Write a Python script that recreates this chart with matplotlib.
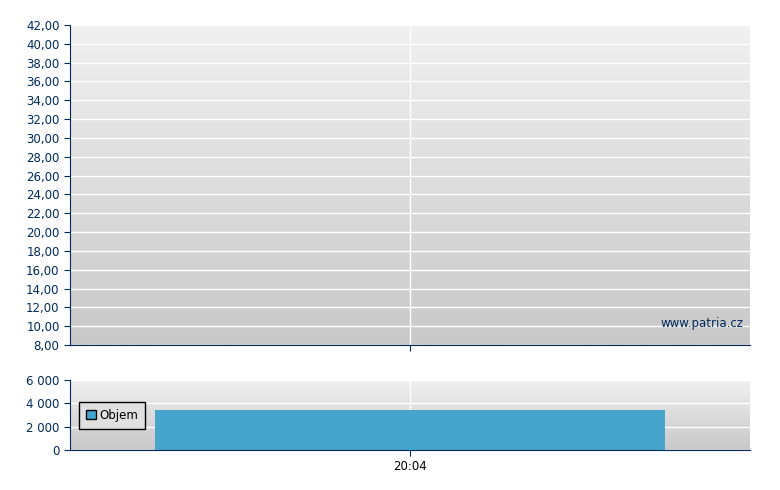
import numpy as np
import matplotlib
matplotlib.use("Agg")
import matplotlib.pyplot as plt
from matplotlib.ticker import FixedLocator

price_ticks = [8 + 2 * i for i in range(18)]
vol_ticks = [0, 2000, 4000, 6000]
vol_values = [3400]
vol_x = [0.5]
x_labels = ["20:04"]

W, H = 780, 490
fig = plt.figure(figsize=(W / 100, H / 100), dpi=100)
ax1 = fig.add_axes([70 / W, 1 - 345 / H, 680 / W, 320 / H])
ax2 = fig.add_axes([70 / W, 1 - 450 / H, 680 / W, 70 / H])

axis_col = "#002a5c"
grad = np.linspace(0, 1, 256).reshape(-1, 1)
from matplotlib.colors import LinearSegmentedColormap
cmap = LinearSegmentedColormap.from_list("g", ["#c8c8c8", "#f0f0f0"])

def style(ax, ticks, fmt, ylim):
    ax.set_xlim(0, 1)
    ax.set_ylim(*ylim)
    ax.imshow(grad, aspect="auto", cmap=cmap, origin="lower",
              extent=[0, 1, ylim[0], ylim[1]], zorder=0)
    ax.yaxis.set_major_locator(FixedLocator(ticks))
    ax.set_yticklabels([fmt(t) for t in ticks], fontsize=8.5, color=axis_col)
    ax.grid(True, color="white", lw=1, zorder=1)
    for s in ["top", "right"]:
        ax.spines[s].set_visible(False)
    for s in ["left", "bottom"]:
        ax.spines[s].set_color(axis_col)
    ax.tick_params(colors=axis_col, length=4)
    ax.set_xticks([0.5])

style(ax1, price_ticks, lambda t: f"{t:.2f}".replace(".", ","), (8, 42))
ax1.set_xticklabels([])
ax1.text(0.99, 0.055, "www.patria.cz", transform=ax1.transAxes, ha="right",
         fontsize=8.5, color="#002a5c")

style(ax2, vol_ticks, lambda t: f"{t:,}".replace(",", " "), (0, 6000))
ax2.bar(vol_x, vol_values, width=0.75, color="#45a5cd", zorder=2, label="Objem")
ax2.set_xticklabels(x_labels, fontsize=8.5, color="black")
leg = ax2.legend(loc="lower left", bbox_to_anchor=(0.005, 0.22), fontsize=8.5,
                 fancybox=False, framealpha=1, edgecolor="black",
                 handlelength=0.8, handleheight=0.8, handletextpad=0.3,
                 borderpad=0.6)
leg.get_frame().set_facecolor("#e0e0e0")
leg.legend_handles[0].set_edgecolor("black")

fig.savefig("out.png", dpi=100)
